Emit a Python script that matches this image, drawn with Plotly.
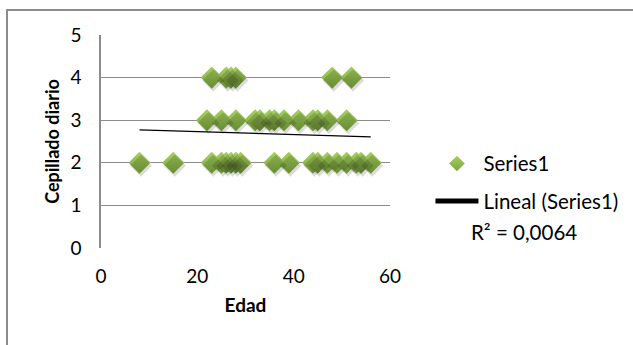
import numpy as np
import plotly.graph_objects as go

# Edad (years) and daily brushing count for each respondent
edad = [23, 26, 27, 28, 48, 52,
        22, 25, 28, 32, 33, 35, 36, 38, 41, 44, 45, 47, 51,
        8, 15, 23, 25, 26, 27, 28, 29, 36, 39, 44, 45, 47, 49, 51, 53, 54, 56]
cepillado = [4, 4, 4, 4, 4, 4,
             3, 3, 3, 3, 3, 3, 3, 3, 3, 3, 3, 3, 3,
             2, 2, 2, 2, 2, 2, 2, 2, 2, 2, 2, 2, 2, 2, 2, 2, 2, 2]

x_ticks = [0, 20, 40, 60]
y_ticks = [0, 1, 2, 3, 4, 5]
r2_label = "R² = 0,0064"

FONT = "Lato"
W, H = 633, 345
M_L, M_R, M_T, M_B = 101, 243, 35, 97
PW, PH = W - M_L - M_R, H - M_T - M_B

# least-squares linear trend over the observed age span
slope, intercept = np.polyfit(edad, cepillado, 1)
trend_x = [min(edad), max(edad)]
trend_y = [slope * v + intercept for v in trend_x]

x_range = [0, 60]
y_range = [0, 5]
# soft drop shadow: same points on overlaid axes nudged right/down by a few px
dx_px, dy_px = 1.5, 3.0
sx = dx_px * (x_range[1] - x_range[0]) / PW
sy = dy_px * (y_range[1] - y_range[0]) / PH

fig = go.Figure()

fig.add_trace(go.Scatter(
    x=edad, y=cepillado, mode="markers", showlegend=False, hoverinfo="skip",
    xaxis="x2", yaxis="y2",
    marker=dict(symbol="diamond", size=17, color="rgba(0,0,0,0.14)", line=dict(width=0)),
))

fig.add_trace(go.Scatter(
    x=edad, y=cepillado, mode="markers", name="Series1", legendgroup="a",
    marker=dict(symbol="diamond", size=17, color="#a6cf60",
                gradient=dict(type="vertical", color="#7aa63b"),
                line=dict(width=0)),
))

fig.add_trace(go.Scatter(
    x=trend_x, y=trend_y, mode="lines", name="Lineal (Series1)", legendgroup="b",
    line=dict(color="#000000", width=1.2),
))

grid = "#8c8c8c"
fig.update_layout(
    width=W, height=H,
    margin=dict(l=M_L, r=M_R, t=M_T, b=M_B, autoexpand=False),
    paper_bgcolor="white", plot_bgcolor="white",
    font=dict(family=FONT, size=19, color="#000000"),
    xaxis=dict(range=x_range, tickvals=x_ticks, showgrid=False, zeroline=False,
               showline=False, ticks="", ticklabelstandoff=15,
               title=dict(text="<b>Edad</b>", standoff=12, font=dict(size=19))),
    yaxis=dict(range=y_range, tickvals=y_ticks, showgrid=True, gridcolor=grid,
               gridwidth=1, zeroline=False, showline=True, linecolor=grid,
               linewidth=1.5, ticks="", ticklabelstandoff=14,
               title=dict(text="<b>Cepillado diario</b>", standoff=6, font=dict(size=18))),
    xaxis2=dict(range=[x_range[0] - sx, x_range[1] - sx], overlaying="x",
                visible=False, fixedrange=True),
    yaxis2=dict(range=[y_range[0] + sy, y_range[1] + sy], overlaying="y",
                visible=False, fixedrange=True),
    legend=dict(x=1.14, y=0.49, xanchor="left", yanchor="top",
                bgcolor="rgba(0,0,0,0)", itemsizing="constant", itemwidth=43,
                tracegroupgap=8, traceorder="grouped",
                font=dict(family=FONT, size=20.5)),
    annotations=[dict(text=r2_label, xref="paper", yref="paper",
                      x=(524 - M_L) / PW, y=(H - M_B - 232) / PH,
                      xanchor="center", yanchor="middle", showarrow=False,
                      font=dict(family=FONT, size=20.5))],
    shapes=[dict(type="rect", xref="paper", yref="paper",
                 x0=(7 - M_L) / PW, x1=(W + 20 - M_L) / PW,
                 y0=(H - M_B - (H + 20)) / PH, y1=(H - M_B - 10) / PH,
                 line=dict(color="#8c8c8c", width=2), layer="below")],
)

fig.write_html("out.html")
